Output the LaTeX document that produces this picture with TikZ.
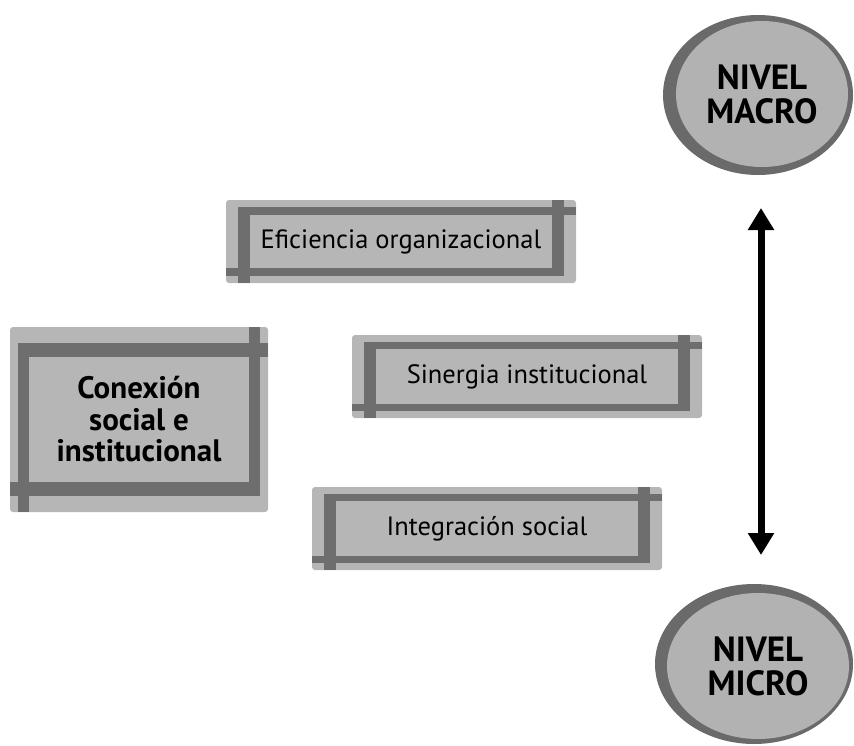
\documentclass[tikz,border=0pt]{standalone}
\usepackage{fontspec}
\setmainfont{PT Sans}
\usetikzlibrary{shapes.geometric, positioning, calc, arrows.meta}
\definecolor{panelgray}{RGB}{182,182,182}
\definecolor{bargray}{RGB}{110,110,110}
\definecolor{ringgray}{RGB}{106,106,106}
\definecolor{levelgray}{RGB}{178,178,178}
\newcommand{\crossframe}[5]{%
  \fill[bargray] ($(#1.north west)+(#2,#4)$) rectangle ($(#1.north east)+(0,#4+#5)$);
  \fill[bargray] ($(#1.north east)+(-#2-#3,0)$) rectangle ($(#1.south east)+(-#2,-#4)$);
  \fill[bargray] ($(#1.south west)+(0,-#4)$) rectangle ($(#1.south east)+(-#2,-#4-#5)$);
  \fill[bargray] ($(#1.north west)+(#2,#4)$) rectangle ($(#1.south west)+(#2+#3,0)$);
}

\begin{document}
\begin{tikzpicture}[x=1pt, y=-1pt,
    every node/.style={inner sep=0pt, text=black},
    panel/.style={rectangle, rounded corners=3pt, fill=panelgray,
      minimum width=350pt, minimum height=83pt, font=\fontsize{26.5}{30}\selectfont},
    bigpanel/.style={panel, minimum width=258pt, minimum height=185pt, align=center,
      font=\fontsize{31}{31.5}\selectfont\bfseries},
    level/.style={ellipse, fill=levelgray, align=center,
      font=\fontsize{35}{34}\selectfont\bfseries},
    updown/.style={line width=7pt,
      {Triangle[length=22pt,width=25pt]}-{Triangle[length=22pt,width=25pt]}}]
    \useasboundingbox (0,0) rectangle (854,745);

    \node[panel] (efic) at (401,241.5) {Eficiencia organizacional};
    \node[panel] (siner) at (527,376.5) {Sinergia institucional};
    \node[panel] (integ) at (487,528.5) {Integración social};
    \node[bigpanel] (conex) at (139,419.5) {Conexión\\social e\\institucional};
    \crossframe{efic}{12}{12}{7}{8}
    \crossframe{siner}{12}{12}{7}{7}
    \crossframe{integ}{12}{12}{7}{7}
    \crossframe{conex}{8}{11}{16}{14}

    \fill[ringgray] (758,95) ellipse [x radius=95, y radius=80];
    \node[level, minimum width=172pt, minimum height=146pt] (macro) at (762,94) {NIVEL\\MACRO};
    \fill[ringgray] (754,664) ellipse [x radius=99, y radius=80];
    \node[level, minimum width=182pt, minimum height=146pt] (micro) at (758,666) {NIVEL\\MICRO};

    \coordinate (uptip) at (761,208);
    \coordinate (downtip) at (761,555);
    \draw[updown] (uptip) -- (downtip);
  \end{tikzpicture}
\end{document}
